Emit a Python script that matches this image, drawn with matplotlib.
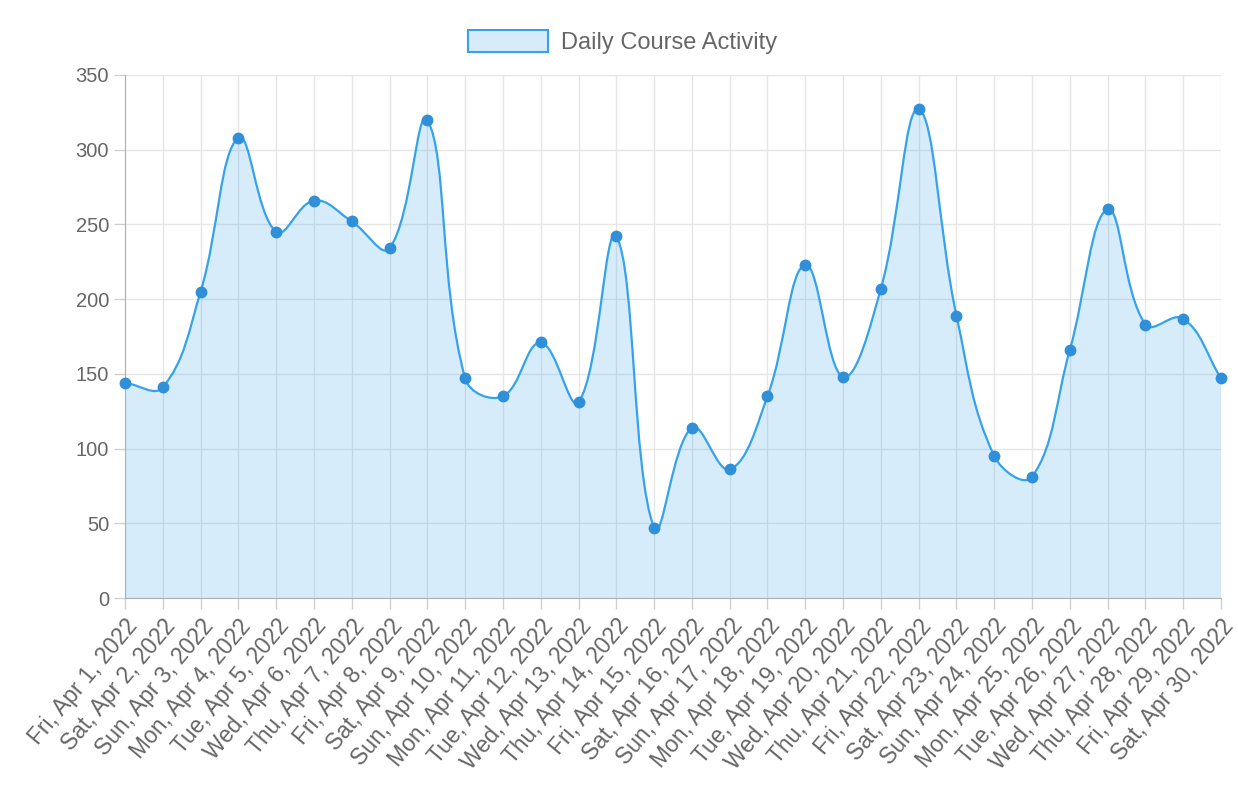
#!/usr/bin/env python3
"""Daily course activity for April 2022, smoothed line with fill."""
import numpy as np
import matplotlib
matplotlib.use("Agg")
import matplotlib.pyplot as plt
from matplotlib.path import Path
from matplotlib.patches import PathPatch, Patch

plt.rcParams["font.family"] = ["Liberation Sans", "DejaVu Sans"]

days = ["Fri", "Sat", "Sun", "Mon", "Tue", "Wed", "Thu"] * 5
dates = [f"{days[i]}, Apr {i + 1}, 2022" for i in range(30)]
activity = [144, 141, 205, 308, 245, 266, 252, 234, 320, 147,
            135, 171, 131, 242, 47, 114, 86, 135, 223, 148,
            207, 327, 189, 95, 81, 166, 260, 183, 187, 147]

LINE = "#36a2eb"
POINT = "#2f8fd8"
FILL = (54 / 255, 162 / 255, 235 / 255, 0.2)
TEXT = "#666666"
GRID = "#e6e6e6"

W, H = 1238, 792
fig = plt.figure(figsize=(W / 100, H / 100), dpi=100)
left, right, top, bottom = 125, 1221, 75, 598
ax = fig.add_axes([left / W, 1 - bottom / H, (right - left) / W, (bottom - top) / H])

x = np.arange(len(activity))
y = np.array(activity, dtype=float)
ax.set_xlim(0, len(x) - 1)
ax.set_ylim(0, 350)

# chart.js style spline (tension 0.4), weights computed in pixel space
sx = (right - left) / (len(x) - 1)
sy = (bottom - top) / 350
tension = 0.4
px, py = x * sx, y * sy
cp_prev, cp_next = [], []
for i in range(len(x)):
    p0 = (px[max(i - 1, 0)], py[max(i - 1, 0)])
    p1 = (px[i], py[i])
    p2 = (px[min(i + 1, len(x) - 1)], py[min(i + 1, len(x) - 1)])
    d01 = np.hypot(p1[0] - p0[0], p1[1] - p0[1])
    d12 = np.hypot(p2[0] - p1[0], p2[1] - p1[1])
    tot = d01 + d12
    s01 = d01 / tot if tot else 0
    s12 = d12 / tot if tot else 0
    fa, fb = tension * s01, tension * s12
    cprev = (p1[0] - fa * (p2[0] - p0[0]), p1[1] - fa * (p2[1] - p0[1]))
    cnext = (p1[0] + fb * (p2[0] - p0[0]), p1[1] + fb * (p2[1] - p0[1]))
    cp_prev.append((cprev[0] / sx, min(max(cprev[1] / sy, 0), 350)))
    cp_next.append((cnext[0] / sx, min(max(cnext[1] / sy, 0), 350)))

verts = [(x[0], y[0])]
codes = [Path.MOVETO]
for i in range(len(x) - 1):
    verts += [cp_next[i], cp_prev[i + 1], (x[i + 1], y[i + 1])]
    codes += [Path.CURVE4] * 3
line_path = Path(verts, codes)

fill_verts = [(x[0], 0)] + verts + [(x[-1], 0), (x[0], 0)]
fill_codes = [Path.MOVETO, Path.LINETO] + codes[1:] + [Path.LINETO, Path.CLOSEPOLY]
ax.add_patch(PathPatch(Path(fill_verts, fill_codes), facecolor=FILL, edgecolor="none", zorder=2))
ax.add_patch(PathPatch(line_path, facecolor="none", edgecolor=LINE, linewidth=1.6, zorder=3))
ax.plot(x, y, linestyle="none", marker="o", markersize=7.5, color=POINT,
        markeredgecolor=POINT, zorder=4, clip_on=False)

ax.set_yticks(np.arange(0, 351, 50))
ax.set_xticks(x)
ax.set_xticklabels(dates, rotation=50, ha="right", rotation_mode="anchor", fontsize=16.5)
ax.tick_params(axis="both", colors="#d0d0d0", labelcolor=TEXT, length=8, width=1)
ax.tick_params(axis="y", labelsize=14.5)
ax.tick_params(axis="x", pad=4)
ax.grid(True, color=GRID, linewidth=1, zorder=0)
ax.set_axisbelow(True)
for side in ("top", "right"):
    ax.spines[side].set_visible(False)
for side in ("left", "bottom"):
    ax.spines[side].set_color("#b0b0b0")

handle = Patch(facecolor=FILL, edgecolor=LINE, linewidth=1.5)
fig.legend([handle], ["Daily Course Activity"], loc="center", bbox_to_anchor=(0.503, 0.947),
           frameon=False, fontsize=17, handlelength=3.4, handleheight=1.05, labelcolor=TEXT,
           handletextpad=0.55)

fig.savefig("out.png", dpi=100)
